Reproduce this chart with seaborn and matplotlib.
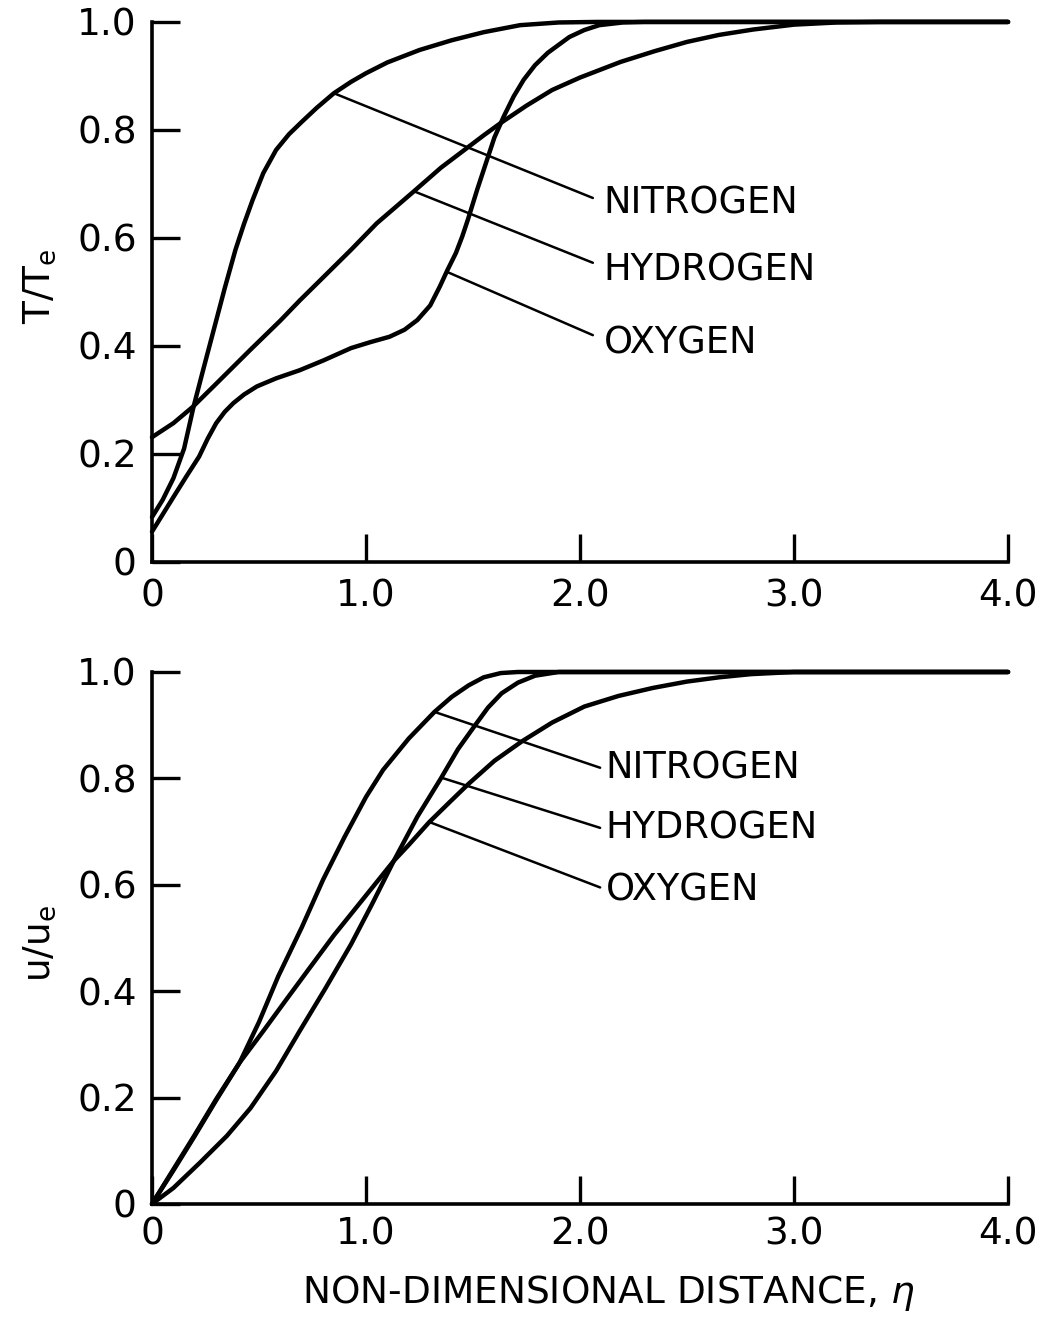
import numpy as np
import pandas as pd
import matplotlib
matplotlib.use("Agg")
import matplotlib.pyplot as plt
import seaborn as sns

# ---- temperature profiles, T/Te versus eta ----
t_eta_nitrogen = [0.0, 0.05, 0.10, 0.15, 0.194, 0.24, 0.29, 0.34, 0.39, 0.43, 0.47, 0.52,
                  0.58, 0.64, 0.70, 0.77, 0.85, 0.93, 1.0, 1.1, 1.25, 1.4, 1.55, 1.72,
                  1.9, 2.08, 4.0]
t_val_nitrogen = [0.083, 0.115, 0.155, 0.21, 0.287, 0.357, 0.432, 0.507, 0.578, 0.626,
                  0.67, 0.72, 0.763, 0.792, 0.815, 0.841, 0.868, 0.889, 0.905, 0.925,
                  0.948, 0.966, 0.981, 0.994, 0.999, 1.0, 1.0]

t_eta_hydrogen = [0.0, 0.1, 0.19, 0.3, 0.46, 0.6, 0.69, 0.8, 0.93, 1.05, 1.22, 1.35,
                  1.47, 1.55, 1.63, 1.75, 1.87, 2.0, 2.19, 2.35, 2.5, 2.65, 2.81, 3.0,
                  3.2, 3.4, 4.0]
t_val_hydrogen = [0.231, 0.257, 0.287, 0.33, 0.393, 0.447, 0.484, 0.527, 0.578, 0.627,
                  0.685, 0.73, 0.766, 0.79, 0.813, 0.845, 0.874, 0.897, 0.926, 0.946,
                  0.963, 0.976, 0.986, 0.995, 0.999, 1.0, 1.0]

t_eta_oxygen = [0.0, 0.1, 0.16, 0.22, 0.26, 0.30, 0.34, 0.38, 0.43, 0.49, 0.58, 0.69,
                0.8, 0.93, 1.02, 1.11, 1.18, 1.24, 1.30, 1.345, 1.38, 1.42, 1.45, 1.477,
                1.52, 1.57, 1.60, 1.645, 1.69, 1.737, 1.79, 1.85, 1.95, 2.02, 2.09, 2.2,
                2.3, 4.0]
t_val_oxygen = [0.056, 0.12, 0.158, 0.195, 0.228, 0.257, 0.278, 0.294, 0.31, 0.325,
                0.34, 0.355, 0.373, 0.396, 0.407, 0.417, 0.43, 0.448, 0.475, 0.51, 0.54,
                0.572, 0.603, 0.635, 0.69, 0.75, 0.786, 0.826, 0.862, 0.893, 0.92, 0.943,
                0.972, 0.985, 0.994, 0.999, 1.0, 1.0]

# ---- velocity profiles, u/ue versus eta ----
u_eta_nitrogen = [0.0, 0.1, 0.2, 0.3, 0.41, 0.5, 0.59, 0.7, 0.8, 0.9, 1.0, 1.08, 1.2,
                  1.32, 1.40, 1.48, 1.55, 1.63, 1.71, 4.0]
u_val_nitrogen = [0.0, 0.063, 0.128, 0.195, 0.266, 0.342, 0.428, 0.52, 0.61, 0.69,
                  0.765, 0.816, 0.875, 0.925, 0.953, 0.975, 0.99, 0.998, 1.0, 1.0]

u_eta_hydrogen = [0.0, 0.1, 0.225, 0.35, 0.46, 0.58, 0.69, 0.81, 0.93, 1.03, 1.13, 1.24,
                  1.35, 1.43, 1.51, 1.57, 1.634, 1.71, 1.79, 1.9, 4.0]
u_val_hydrogen = [0.0, 0.03, 0.078, 0.128, 0.18, 0.25, 0.325, 0.405, 0.488, 0.565, 0.645,
                  0.728, 0.80, 0.855, 0.90, 0.933, 0.96, 0.98, 0.993, 1.0, 1.0]

u_eta_oxygen = [0.0, 0.1, 0.2, 0.3, 0.41, 0.52, 0.62, 0.73, 0.85, 0.96, 1.06, 1.13, 1.2,
                1.296, 1.39, 1.48, 1.6, 1.73, 1.87, 2.02, 2.18, 2.34, 2.5, 2.65, 2.8,
                3.0, 4.0]
u_val_oxygen = [0.0, 0.065, 0.13, 0.197, 0.266, 0.325, 0.38, 0.44, 0.505, 0.56, 0.61,
                0.645, 0.675, 0.718, 0.755, 0.79, 0.833, 0.87, 0.905, 0.935, 0.955, 0.97,
                0.982, 0.99, 0.996, 1.0, 1.0]

gases = ["NITROGEN", "HYDROGEN", "OXYGEN"]
x_ticks = [0, 1, 2, 3, 4]
x_ticklabels = ["0", "1.0", "2.0", "3.0", "4.0"]
y_ticks = [0, 0.2, 0.4, 0.6, 0.8, 1.0]
y_ticklabels = ["0", "0.2", "0.4", "0.6", "0.8", "1.0"]


def long_frame(etas, vals):
    rows = []
    for gas, e, v in zip(gases, etas, vals):
        rows.append(pd.DataFrame({"eta": e, "value": v, "gas": gas}))
    return pd.concat(rows, ignore_index=True)


temp_df = long_frame([t_eta_nitrogen, t_eta_hydrogen, t_eta_oxygen],
                     [t_val_nitrogen, t_val_hydrogen, t_val_oxygen])
vel_df = long_frame([u_eta_nitrogen, u_eta_hydrogen, u_eta_oxygen],
                    [u_val_nitrogen, u_val_hydrogen, u_val_oxygen])

sns.set_style("ticks")
plt.rcParams["font.family"] = ["DejaVu Sans"]
plt.rcParams["mathtext.fontset"] = "dejavusans"
plt.rcParams["text.color"] = "black"
plt.rcParams["axes.labelcolor"] = "black"

fig = plt.figure(figsize=(10.46, 13.21), dpi=100)
ax_t = fig.add_axes([0.1453, 0.5746, 0.8184, 0.4088])
ax_u = fig.add_axes([0.1453, 0.0886, 0.8184, 0.4027])

FS = 27


def draw_panel(ax, df, leader_eta, leader_end, text_x, text_y, xpad):
    for gas in gases:
        sub = df[df["gas"] == gas]
        sns.lineplot(data=sub, x="eta", y="value", ax=ax, color="black",
                     lw=3.2, estimator=None, sort=False, legend=False,
                     clip_on=False, solid_joinstyle="round")
    # leader lines from each curve to its label
    for gas, le, (ex, ey), ty in zip(gases, leader_eta, leader_end, text_y):
        sub = df[df["gas"] == gas]
        ly = np.interp(le, sub["eta"], sub["value"])
        ax.plot([le, ex], [ly, ey], color="black", lw=1.8, clip_on=False)
        ax.text(text_x, ty, gas, fontsize=FS * 0.98, va="center", ha="left",
                color="black")
    ax.set_xlim(0, 4)
    ax.set_ylim(0, 1)
    ax.set_xticks(x_ticks)
    ax.set_xticklabels(x_ticklabels)
    ax.set_yticks(y_ticks)
    ax.set_yticklabels(y_ticklabels)
    sns.despine(ax=ax)
    for s in ("left", "bottom"):
        ax.spines[s].set_linewidth(2.6)
        ax.spines[s].set_color("black")
    ax.tick_params(axis="both", direction="in", length=20, width=2.4,
                   labelsize=FS, colors="black")
    ax.tick_params(axis="x", pad=xpad)
    ax.tick_params(axis="y", pad=11)


draw_panel(ax_t, temp_df,
           leader_eta=[0.85, 1.224, 1.377],
           leader_end=[(2.06, 0.674), (2.06, 0.554), (2.06, 0.42)],
           text_x=2.11,
           text_y=[0.665, 0.54, 0.405],
           xpad=12)
draw_panel(ax_u, vel_df,
           leader_eta=[1.32, 1.352, 1.296],
           leader_end=[(2.094, 0.82), (2.094, 0.707), (2.094, 0.595)],
           text_x=2.12,
           text_y=[0.82, 0.706, 0.59],
           xpad=9)

ax_t.set_xlabel("")
ax_t.set_ylabel(r"T/T$_{\mathrm{e}}$", fontsize=FS)
ax_t.yaxis.set_label_coords(-0.11, 0.51)
ax_u.set_ylabel(r"u/u$_{\mathrm{e}}$", fontsize=FS)
ax_u.yaxis.set_label_coords(-0.11, 0.49)
ax_u.set_xlabel(r"NON-DIMENSIONAL DISTANCE, $\eta$", fontsize=FS)
ax_u.xaxis.set_label_coords(0.533, -0.13)

fig.savefig("out.png", dpi=100, facecolor="white")
